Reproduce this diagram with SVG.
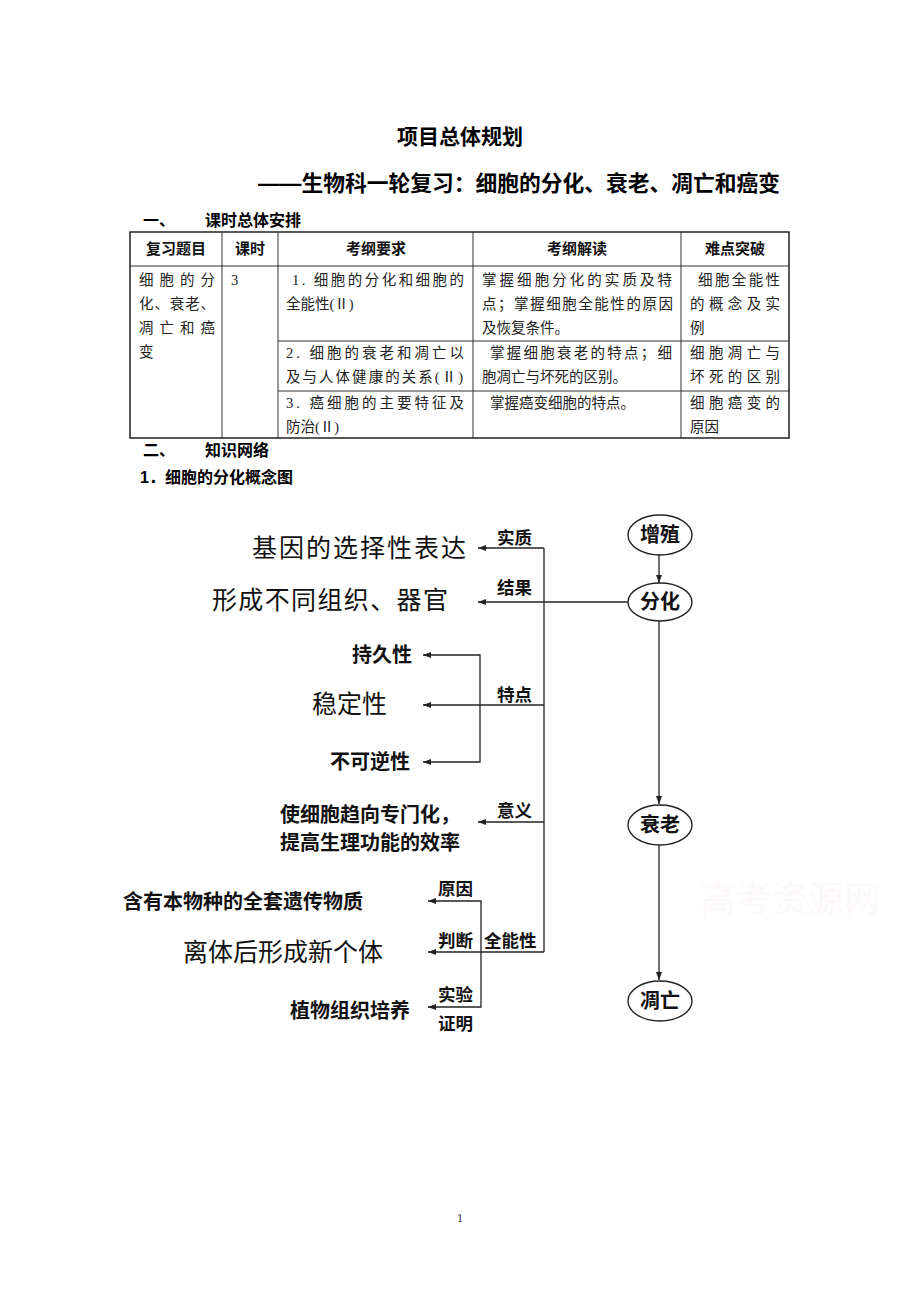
<svg xmlns="http://www.w3.org/2000/svg" width="920" height="1302" viewBox="0 0 920 1302">
<style>
.h{font-family:"Liberation Sans","Noto Sans CJK SC",sans-serif;font-weight:bold;fill:#000}
.t{font-family:"Liberation Serif","Noto Sans CJK SC",serif;font-size:14.5px;fill:#222}
.th{font-family:"Liberation Sans","Noto Sans CJK SC",sans-serif;font-size:15px;font-weight:bold;fill:#111;text-anchor:middle}
.big{font-family:"Noto Sans CJK SC",sans-serif;font-size:25px;fill:#111}
.mid{font-family:"Noto Sans CJK SC",sans-serif;font-size:20px;font-weight:bold;fill:#111}
.lab{font-family:"Noto Sans CJK SC",sans-serif;font-size:17.5px;font-weight:bold;fill:#111}
.nd{font-family:"Noto Sans CJK SC",sans-serif;font-size:20px;font-weight:bold;fill:#111;text-anchor:middle}
.tl{stroke:#333;stroke-width:1;fill:none}
.to{stroke:#222;stroke-width:1.5;fill:none}
.c{stroke:#222;stroke-width:1.3;fill:none}
.el{fill:#fff;stroke:#222;stroke-width:1.4}
</style>
<defs>
<marker id="ar" markerWidth="9" markerHeight="7" refX="8" refY="3.5" orient="auto" markerUnits="userSpaceOnUse">
<path d="M0,0.5 L8,3.5 L0,6.5 z" fill="#222"/>
</marker>
</defs>
<rect width="920" height="1302" fill="#fff"/>

<g id="titles">
<text class="h" x="460" y="144" font-size="21" text-anchor="middle">项目总体规划</text>
<text class="h" x="258" y="191" font-size="21.5" textLength="522" lengthAdjust="spacingAndGlyphs">——生物科一轮复习：细胞的分化、衰老、凋亡和癌变</text>
<text class="h" x="143" y="226" font-size="16">一、</text>
<text class="h" x="205" y="226" font-size="16">课时总体安排</text>
<text class="h" x="143" y="456" font-size="16">二、</text>
<text class="h" x="205" y="456" font-size="16">知识网络</text>
<text class="h" x="140" y="483" font-size="16">1．细胞的分化概念图</text>
<text x="460" y="1222" font-family="Liberation Serif" font-size="12" text-anchor="middle" fill="#222">1</text>
</g>

<g id="table">
<rect class="to" x="130" y="232" width="659" height="206"/>
<line class="tl" x1="130" y1="266" x2="789" y2="266"/>
<line class="tl" x1="278" y1="341" x2="789" y2="341"/>
<line class="tl" x1="278" y1="391" x2="789" y2="391"/>
<line class="tl" x1="222" y1="232" x2="222" y2="438"/>
<line class="tl" x1="278" y1="232" x2="278" y2="438"/>
<line class="tl" x1="473" y1="232" x2="473" y2="438"/>
<line class="tl" x1="681" y1="232" x2="681" y2="438"/>
<text class="th" x="176" y="254">复习题目</text>
<text class="th" x="250" y="254">课时</text>
<text class="th" x="376" y="254">考纲要求</text>
<text class="th" x="577" y="254">考纲解读</text>
<text class="th" x="735" y="254">难点突破</text>
<text class="t" x="139" y="285" textLength="76" lengthAdjust="spacing">细胞的分</text>
<text class="t" x="139" y="309" textLength="76" lengthAdjust="spacing">化、衰老、</text>
<text class="t" x="139" y="333" textLength="76" lengthAdjust="spacing">凋亡和癌</text>
<text class="t" x="139" y="357">变</text>
<text class="t" x="231" y="285">3</text>
<text class="t" x="292" y="285" textLength="172" lengthAdjust="spacing">1. 细胞的分化和细胞的</text>
<text class="t" x="286" y="309">全能性(Ⅱ)</text>
<text class="t" x="482" y="285" textLength="190" lengthAdjust="spacing">掌握细胞分化的实质及特</text>
<text class="t" x="482" y="309" textLength="191" lengthAdjust="spacing">点；掌握细胞全能性的原因</text>
<text class="t" x="482" y="333">及恢复条件。</text>
<text class="t" x="698" y="285" textLength="82" lengthAdjust="spacing">细胞全能性</text>
<text class="t" x="690" y="309" textLength="90" lengthAdjust="spacing">的概念及实</text>
<text class="t" x="690" y="333">例</text>
<text class="t" x="286" y="358" textLength="178" lengthAdjust="spacing">2. 细胞的衰老和凋亡以</text>
<text class="t" x="286" y="382" textLength="177" lengthAdjust="spacing">及与人体健康的关系(Ⅱ)</text>
<text class="t" x="490" y="358" textLength="182" lengthAdjust="spacing">掌握细胞衰老的特点；细</text>
<text class="t" x="482" y="382">胞凋亡与坏死的区别。</text>
<text class="t" x="690" y="358" textLength="90" lengthAdjust="spacing">细胞凋亡与</text>
<text class="t" x="690" y="382" textLength="90" lengthAdjust="spacing">坏死的区别</text>
<text class="t" x="286" y="408" textLength="178" lengthAdjust="spacing">3. 癌细胞的主要特征及</text>
<text class="t" x="286" y="432">防治(Ⅱ)</text>
<text class="t" x="490" y="408">掌握癌变细胞的特点。</text>
<text class="t" x="690" y="408" textLength="90" lengthAdjust="spacing">细胞癌变的</text>
<text class="t" x="690" y="432">原因</text>
</g>

<g id="connectors">
<line class="c" x1="659" y1="555" x2="659" y2="583" marker-end="url(#ar)"/>
<line class="c" x1="659" y1="621" x2="659" y2="804" marker-end="url(#ar)"/>
<line class="c" x1="659" y1="845" x2="659" y2="980" marker-end="url(#ar)"/>
<line class="c" x1="628" y1="602" x2="478" y2="602" marker-end="url(#ar)"/>
<path class="c" d="M544,548 L544,952"/>
<path class="c" d="M544,548 L478,548" marker-end="url(#ar)"/>
<path class="c" d="M544,705 L423,705" marker-end="url(#ar)"/>
<path class="c" d="M480,705 L480,655 L423,655" marker-end="url(#ar)"/>
<path class="c" d="M480,705 L480,762 L423,762" marker-end="url(#ar)"/>
<path class="c" d="M544,822 L478,822" marker-end="url(#ar)"/>
<path class="c" d="M544,952 L428,952" marker-end="url(#ar)"/>
<path class="c" d="M481,952 L481,901 L428,901" marker-end="url(#ar)"/>
<path class="c" d="M481,952 L481,1007 L428,1007" marker-end="url(#ar)"/>
</g>

<g id="edge-labels">
<text class="lab" x="497" y="544">实质</text>
<text class="lab" x="497" y="594">结果</text>
<text class="lab" x="497" y="701">特点</text>
<text class="lab" x="497" y="817">意义</text>
<text class="lab" x="438" y="895">原因</text>
<text class="lab" x="438" y="947">判断</text>
<text class="lab" x="484" y="947">全能性</text>
<text class="lab" x="438" y="1001">实验</text>
<text class="lab" x="438" y="1030">证明</text>
</g>

<g id="node-zengzhi"><ellipse class="el" cx="660" cy="535" rx="32" ry="20"/><text class="nd" x="660" y="542">增殖</text></g>
<g id="node-fenhua"><ellipse class="el" cx="660" cy="602" rx="32" ry="19"/><text class="nd" x="660" y="609">分化</text></g>
<g id="node-shuailao"><ellipse class="el" cx="660" cy="825" rx="32" ry="20"/><text class="nd" x="660" y="832">衰老</text></g>
<g id="node-diaowang"><ellipse class="el" cx="660" cy="1001" rx="32" ry="20"/><text class="nd" x="660" y="1008">凋亡</text></g>

<g id="node-jiyin"><text class="big" x="252" y="557" font-size="26" textLength="214" lengthAdjust="spacing">基因的选择性表达</text></g>
<g id="node-xingcheng"><text class="big" x="212" y="609" font-size="26" textLength="236" lengthAdjust="spacing">形成不同组织、器官</text></g>
<g id="node-chijiu"><text class="mid" x="352" y="662">持久性</text></g>
<g id="node-wending"><text class="big" x="312" y="713">稳定性</text></g>
<g id="node-bukeni"><text class="mid" x="330" y="769">不可逆性</text></g>
<g id="node-yiyi"><text class="mid" x="280" y="822">使细胞趋向专门化，</text><text class="mid" x="280" y="850">提高生理功能的效率</text></g>
<g id="node-hanyou"><text class="mid" x="123" y="909" font-size="24">含有本物种的全套遗传物质</text></g>
<g id="node-liti"><text class="big" x="183" y="961" font-size="26">离体后形成新个体</text></g>
<g id="node-zhiwu"><text class="mid" x="290" y="1018">植物组织培养</text></g>

<g id="watermark"><text x="700" y="912" font-family="Noto Sans CJK SC,sans-serif" font-size="36" fill="#fdf9f9">高考资源网</text></g>
</svg>
